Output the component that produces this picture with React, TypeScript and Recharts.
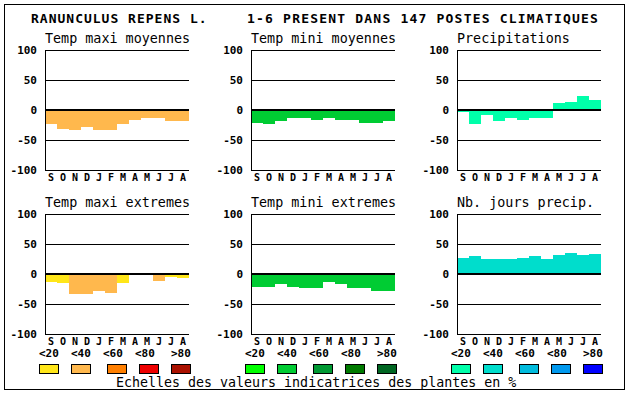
import React from 'react';
import { BarChart, Bar, XAxis, YAxis, CartesianGrid, ReferenceLine, Cell } from 'recharts';

// ---- data ----
const months = ['S', 'O', 'N', 'D', 'J', 'F', 'M', 'A', 'M', 'J', 'J', 'A'];
const yTicks = [-100, -50, 0, 50, 100];

const tmaxMoy = [-24, -31, -33, -28, -33, -33, -24, -16, -13, -14, -18, -18];
const tmaxMoyClass = [1, 1, 1, 1, 1, 1, 1, 1, 1, 1, 1, 1];

const tminMoy = [-21, -23, -18, -14, -14, -16, -14, -16, -16, -21, -21, -18];
const tminMoyClass = [1, 1, 1, 1, 1, 1, 1, 1, 1, 1, 1, 1];

const precip = [-4, -24, -8, -18, -13, -16, -13, -14, 12, 13, 23, 16];
const precipClass = [0, 0, 0, 0, 0, 0, 0, 0, 0, 0, 0, 0];

const tmaxExt = [-13, -15, -33, -33, -28, -31, -15, 0, -2, -11, -5, -6];
const tmaxExtClass = [0, 0, 1, 1, 1, 1, 0, 0, 1, 1, 0, 0];

const tminExt = [-21, -21, -16, -21, -24, -23, -14, -16, -24, -23, -28, -28];
const tminExtClass = [1, 1, 1, 1, 1, 1, 1, 1, 1, 1, 1, 1];

const nbJours = [27, 30, 25, 25, 25, 27, 30, 25, 32, 35, 32, 33];
const nbJoursClass = [1, 1, 1, 1, 1, 1, 1, 1, 1, 1, 1, 1];

const scaleLabels = ['<20', '<40', '<60', '<80', '>80'];
const warmPalette = ['#ffe619', '#ffb84d', '#ff7f00', '#ee0000', '#aa1100'];
const greenPalette = ['#00ff00', '#00cc33', '#009933', '#007a00', '#006622'];
const bluePalette = ['#00ffaa', '#00ddcc', '#00bbdd', '#0099ee', '#0000ff'];

const titleLeft = 'RANUNCULUS REPENS L.';
const titleRight = '1-6 PRESENT DANS 147 POSTES CLIMATIQUES';
const footer = 'Echelles des valeurs indicatrices des plantes en %';

// ---- layout ----
const FONT = '"DejaVu Sans Mono", "Liberation Mono", monospace';
const COLS = [45, 251, 457];
const ROWS = [50, 214];
const AXIS_W = 45;
const TOP_M = 5;

type PanelProps = {
  title: string;
  values: number[];
  classes: number[];
  palette: string[];
  left: number;
  top: number;
};

const tickStyle = { fontSize: 11, fontWeight: 'bold', fill: '#000', fontFamily: FONT };

function Panel({ values, classes, palette, left, top }: PanelProps) {
  const data = months.map((m, i) => ({ m, v: values[i], c: classes[i] }));
  return (
    <div className="ck" style={{ position: 'absolute', left: left - AXIS_W, top: top - TOP_M }}>
      <BarChart
        width={200}
        height={140}
        data={data}
        margin={{ top: TOP_M, right: 11, bottom: 0, left: 0 }}
        barCategoryGap={0}
        barGap={0}
      >
        <CartesianGrid vertical={false} stroke="#000" />
        <Bar dataKey="v" isAnimationActive={false}>
          {data.map((d, i) => (
            <Cell key={i} fill={palette[d.c]} />
          ))}
        </Bar>
        <ReferenceLine y={0} stroke="#000" strokeWidth={2} />
        <XAxis
          dataKey="m"
          interval={0}
          tickLine={false}
          axisLine={{ stroke: '#000' }}
          tickSize={4}
          tickMargin={0}
          height={15}
          tick={{ ...tickStyle, fontSize: 10 }}
        />
        <XAxis xAxisId="t" dataKey="m" orientation="top" height={0} tick={false} tickLine={false} axisLine={{ stroke: '#000' }} />
        <YAxis
          domain={[-100, 100]}
          ticks={yTicks}
          interval={0}
          width={AXIS_W}
          tickLine={false}
          axisLine={{ stroke: '#000' }}
          tick={tickStyle}
          allowDataOverflow
        />
        <YAxis yAxisId="r" orientation="right" width={0} domain={[-100, 100]} tick={false} tickLine={false} axisLine={{ stroke: '#000' }} />
      </BarChart>
    </div>
  );
}

const panels = [
  { title: 'Temp maxi moyennes', values: tmaxMoy, classes: tmaxMoyClass, palette: warmPalette, col: 0, row: 0 },
  { title: 'Temp mini moyennes', values: tminMoy, classes: tminMoyClass, palette: greenPalette, col: 1, row: 0 },
  { title: 'Precipitations', values: precip, classes: precipClass, palette: bluePalette, col: 2, row: 0 },
  { title: 'Temp maxi extremes', values: tmaxExt, classes: tmaxExtClass, palette: warmPalette, col: 0, row: 1 },
  { title: 'Temp mini extremes', values: tminExt, classes: tminExtClass, palette: greenPalette, col: 1, row: 1 },
  { title: 'Nb. jours precip.', values: nbJours, classes: nbJoursClass, palette: bluePalette, col: 2, row: 1 },
];

const legendGroups = [
  { start: 39, palette: warmPalette },
  { start: 245, palette: greenPalette },
  { start: 451, palette: bluePalette },
];
const labelOffsets = [0, 32, 64, 96, 132];
const swatchOffsets = [0, 32, 68, 100, 132];

export default function App() {
  return (
    <div style={{ position: 'absolute', left: 0, top: 0, width: 630, height: 394, background: '#fff', overflow: 'hidden' }}>
      <style>{`.ck line, .ck rect, .ck path { shape-rendering: crispEdges; }`}</style>
      <svg width={630} height={394} style={{ position: 'absolute', left: 0, top: 0 }} shapeRendering="crispEdges">
        <rect x={4.5} y={4.5} width={620} height={385} fill="none" stroke="#000" strokeWidth={1} />
        <text x={31} y={22.5} fontFamily={FONT} fontWeight="bold" fontSize={13} letterSpacing={1} fill="#000">
          {titleLeft}
        </text>
        <text x={247} y={22.5} fontFamily={FONT} fontWeight="bold" fontSize={13} letterSpacing={1.2} fill="#000">
          {titleRight}
        </text>
        {panels.map((p, i) => (
          <text key={i} x={COLS[p.col]} y={ROWS[p.row] - 7} fontFamily={FONT} fontSize={13.4} fill="#000">
            {p.title}
          </text>
        ))}
        {legendGroups.map((g, gi) => (
          <g key={gi}>
            {scaleLabels.map((lab, i) => (
              <text key={'l' + i} x={g.start + labelOffsets[i]} y={357} fontFamily={FONT} fontWeight="bold" fontSize={11} fill="#000">
                {lab}
              </text>
            ))}
            {g.palette.map((c, i) => (
              <rect key={'s' + i} x={g.start + swatchOffsets[i] + 0.5} y={364.5} width={19} height={9} fill={c} stroke="#000" strokeWidth={1} />
            ))}
          </g>
        ))}
        <text x={116} y={386.5} fontFamily={FONT} fontSize={13.3} fill="#000">
          {footer}
        </text>
      </svg>
      {panels.map((p, i) => (
        <Panel
          key={i}
          title={p.title}
          values={p.values}
          classes={p.classes}
          palette={p.palette}
          left={COLS[p.col]}
          top={ROWS[p.row]}
        />
      ))}
    </div>
  );
}
